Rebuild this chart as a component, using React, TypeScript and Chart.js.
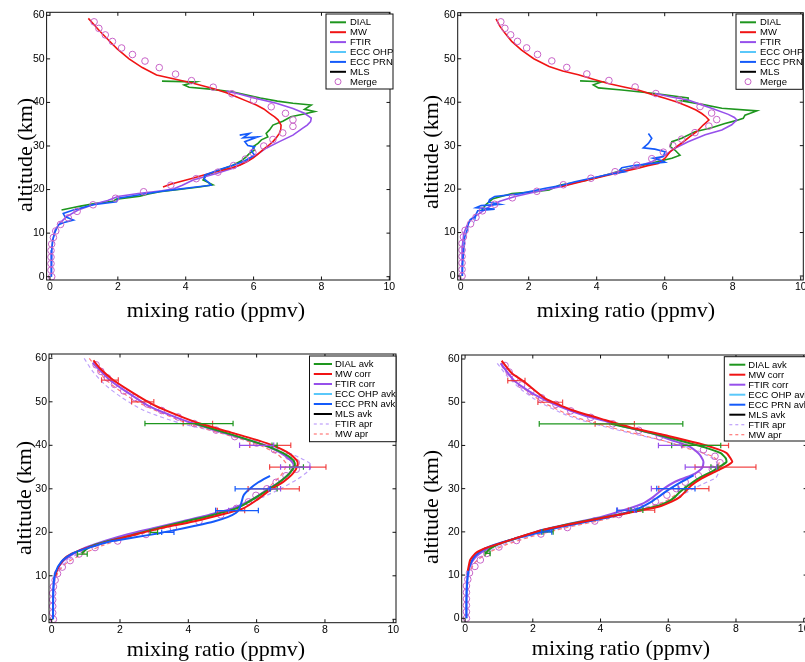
import React, { useEffect, useRef } from 'react';
import { Chart, registerables } from 'chart.js';
Chart.register(...registerables);

// ---------- axes ----------
const X_TICKS = [0, 2, 4, 6, 8, 10];
const Y_TICKS = [0, 10, 20, 30, 40, 50, 60];
const X_TITLE = 'mixing ratio (ppmv)';
const Y_TITLE = 'altitude (km)';
const LEGEND_TOP = ['DIAL', 'MW', 'FTIR', 'ECC OHP', 'ECC PRN', 'MLS', 'Merge'];
const LEGEND_BOTTOM = ['DIAL avk', 'MW corr', 'FTIR corr', 'ECC OHP avk', 'ECC PRN avk', 'MLS avk', 'FTIR apr', 'MW apr'];

// ---------- merged profiles (altitude km, ppmv) ----------
const MERGE_ALT = [0, 1.5, 3, 4.5, 6, 7.5, 9, 10.5, 12, 13.5, 15, 16.5, 18, 19.5, 21, 22.5, 24, 25.5, 27, 28.5, 30, 31.5, 33, 34.5, 36, 37.5, 39, 40.5, 42, 43.5, 45, 46.5, 48, 49.5, 51, 52.5, 54, 55.5, 57, 58.5];
const MERGE_A = [0.05, 0.03, 0.03, 0.03, 0.03, 0.05, 0.1, 0.17, 0.31, 0.54, 0.8, 1.27, 1.93, 2.76, 3.56, 4.31, 4.95, 5.41, 5.76, 5.98, 6.3, 6.57, 6.86, 7.16, 7.16, 6.94, 6.52, 6.0, 5.36, 4.81, 4.17, 3.7, 3.22, 2.8, 2.43, 2.11, 1.84, 1.63, 1.44, 1.3];
const MERGE_B = [0.04, 0.04, 0.04, 0.04, 0.04, 0.04, 0.08, 0.13, 0.29, 0.45, 0.64, 1.0, 1.52, 2.24, 3.02, 3.83, 4.54, 5.18, 5.62, 5.96, 6.24, 6.5, 6.89, 7.3, 7.53, 7.38, 7.04, 6.43, 5.74, 5.13, 4.36, 3.71, 3.12, 2.68, 2.26, 1.94, 1.67, 1.47, 1.3, 1.18];

// ---------- panel 1 profiles [altitude, ppmv] ----------
const P1_DIAL = [[44.9,3.3],[44.7,4.3],[44.0,3.95],[43.5,4.1],[43.0,4.8],[42.4,5.4],[41.5,5.9],[41.0,6.2],[40.3,6.7],[39.8,7.16],[39.4,7.7],[38.4,7.5],[37.9,7.8],[37.3,7.45],[36.7,7.1],[35.7,6.86],[34.8,6.57],[33.7,6.47],[32.9,6.37],[32.1,6.42],[31.4,6.23],[30.6,6.13],[29.8,5.98],[29.1,6.03],[28.3,5.88],[27.5,5.78],[26.6,5.64],[25.6,5.39],[24.5,5.0],[23.3,4.61],[22.2,4.51],[21.1,4.8],[20.6,4.4],[20.0,3.8],[19.5,3.24],[19.0,2.9],[18.5,2.65],[17.8,1.96],[17.3,1.85],[16.8,1.32],[16.2,0.9],[15.9,0.69],[15.3,0.34]];
const P1_MW = [[59.3,1.13],[58,1.28],[56.5,1.45],[54.5,1.7],[52.3,1.98],[50,2.33],[48,2.72],[46.3,3.14],[45.5,3.6],[44.4,4.22],[43.2,4.8],[42.2,5.2],[41.3,5.49],[40.3,5.8],[39.4,6.08],[38.5,6.3],[37.5,6.47],[36.7,6.62],[36,6.72],[34.8,6.81],[33.8,6.8],[32.9,6.76],[32,6.68],[31,6.57],[30,6.42],[29.1,6.27],[28.1,6.12],[27.2,5.98],[26.4,5.8],[25.6,5.59],[25,5.35],[24.5,5.1],[23.9,4.8],[23.3,4.51],[22.5,4.15],[21.8,3.82],[21.2,3.55],[20.6,3.33]];
const P1_FTIR = [[42.6,5.2],[42,5.55],[41.1,5.98],[39.8,6.67],[38.6,7.16],[37.5,7.5],[36.4,7.7],[35.6,7.68],[34.8,7.58],[34.1,7.45],[32.5,7.16],[31,6.76],[29.5,6.37],[27.9,6.08],[26.4,5.78],[24.9,5.39],[23.7,4.9],[22.2,4.22],[21,3.9],[20.2,3.65],[19.7,3.3],[19.1,2.6],[18.4,2.0],[17.5,1.7],[16.8,1.37],[15.3,0.83],[13.8,0.49],[12.3,0.29],[10.7,0.15],[8.4,0.08],[6,0.05],[3,0.04],[0,0.04]];
const P1_PRN = [[32.5,5.59],[32.9,5.88],[31.9,5.69],[32.1,6.13],[31,5.74],[30.1,5.83],[29.8,6.03],[28.9,5.93],[27.9,6.03],[26.6,5.74],[25.8,5.49],[24.6,5.0],[23.3,4.56],[22.4,4.55],[21.6,4.68],[21.0,4.75],[20.6,4.3],[20.1,3.8],[19.6,3.3],[18.8,2.65],[18.0,2.01],[17.2,1.96],[16.5,1.27],[15.3,0.69],[14.5,0.39],[13.8,0.44],[13.0,0.69],[12.4,0.39],[11.9,0.25],[10.3,0.15],[8.4,0.08],[6.1,0.05],[3,0.04],[0,0.04]];

// ---------- panel 2 profiles ----------
const P2_DIAL = [[44.9,3.51],[44.7,4.15],[44.0,3.9],[43.3,4.05],[42.8,4.74],[42.0,5.71],[41.0,6.69],[40.5,6.69],[40.3,6.5],[39.5,7.1],[38.6,7.68],[38.0,8.71],[37.0,8.36],[36.3,8.31],[35.7,8.07],[35.1,7.77],[34.1,7.38],[33.2,6.89],[31.7,6.5],[30.9,6.21],[29.8,6.16],[29.0,6.3],[27.8,6.45],[27.1,6.21],[26.2,5.71],[25.2,5.22],[24.2,4.7],[23.2,4.24],[22.1,3.75],[20.9,2.9],[19.8,2.6],[19.4,2.19],[19.0,1.51],[17.8,0.95],[16.5,0.75],[15.2,0.62]];
const P2_MW = [[59.2,1.04],[57.5,1.15],[55.9,1.3],[54,1.5],[52,1.79],[50,2.15],[48.2,2.6],[47.2,3.0],[46.3,3.46],[45.3,3.9],[44.3,4.34],[43.5,4.8],[42.8,5.22],[41.8,5.62],[40.9,6.01],[40,6.38],[39,6.69],[38.2,6.92],[37.4,7.09],[36.6,7.22],[35.9,7.3],[34.8,7.14],[33.2,6.94],[32.1,6.74],[30.9,6.55],[29.8,6.35],[28.6,6.16],[27.1,6.01],[25.9,5.81],[25.4,5.5],[24.8,5.22],[23.6,4.54],[22.1,3.75],[20.6,2.97]];
const P2_FTIR = [[42.0,5.71],[41.2,6.2],[40.5,6.69],[39.5,7.05],[38.6,7.38],[37.2,7.87],[36.5,8.05],[35.9,8.12],[34.8,7.97],[33.6,7.68],[32.5,7.19],[30.9,6.69],[29.4,6.3],[27.8,6.01],[26.3,5.62],[24.8,5.03],[23.2,4.24],[21.7,3.46],[20.6,2.97],[19.5,2.28],[18.3,1.6],[17.2,1.15],[16.0,0.85],[14.8,0.63],[13.3,0.33],[11.7,0.19],[9.8,0.09],[7,0.05],[3,0.04],[0,0.04]];
const P2_PRN = [[32.8,5.52],[31.7,5.62],[30.5,5.52],[29.5,5.37],[29.2,5.71],[28.6,6.01],[27.5,5.96],[27.1,5.66],[26.6,5.9],[26.2,6.01],[25.5,5.13],[24.9,4.74],[24.4,4.68],[24.0,4.83],[23.2,4.24],[21.7,3.36],[20.9,2.98],[20.2,2.49],[18.9,1.71],[18.3,1.0],[17.6,0.85],[17.0,0.82],[16.5,1.15],[16.2,0.6],[15.7,0.45],[15.4,1.0],[15.0,0.5],[14.2,0.45],[13.6,0.43],[13.0,0.28],[12.1,0.23],[10.6,0.19],[9.0,0.12],[6,0.09],[3,0.06],[0,0.05]];

// ---------- panel 3 profiles ----------
const P3_DIAL = [[45,4.2],[42.4,5.3],[40.1,6.2],[38.2,6.78],[36.6,7.07],[35.5,7.12],[33.6,6.97],[31.3,6.63],[29.3,6.24],[27.4,5.85],[25.5,5.41],[24,4.73],[22.2,3.76],[20.5,2.88],[19,2.19],[17.9,1.61],[16.7,1.12],[15.2,0.88]];
const P3_MW = [[59.5,1.22],[57.7,1.41],[55,1.8],[52,2.39],[49.3,2.98],[47,3.66],[45,4.34],[42.8,5.32],[40.5,6.29],[38.5,6.88],[36.6,7.17],[35.5,7.2],[33.6,7.07],[31.6,6.78],[29.7,6.39],[27.4,6.0],[25.5,5.61],[24.4,5.12],[22.5,4.15],[20.9,3.17],[19.4,2.39],[18.2,1.8],[17.1,1.32],[15.9,0.83],[14.4,0.44],[12.1,0.2],[10,0.1]];
const P3_FTIR = [[59,1.2],[55,1.7],[52,2.25],[49,2.85],[47,3.45],[45,4.15],[42.5,5.2],[40.5,6.05],[38.5,6.65],[36.5,7.0],[35.3,7.08],[33.5,6.95],[31.5,6.65],[29.5,6.25],[27.5,5.85],[25.5,5.3],[24,4.6],[22.5,3.8],[21,3.0],[19.5,2.2],[18,1.55],[16.5,1.0],[15,0.62],[13.5,0.35],[12,0.2],[10,0.1],[7,0.05],[3,0.04],[0,0.04]];
const P3_PRN = [[33,6.39],[31.5,6.05],[30,5.8],[28.5,5.62],[27,5.56],[25.5,5.5],[24.5,5.4],[23.5,5.15],[22.5,4.75],[21.5,4.2],[20.5,3.6],[19.8,3.15],[18.8,2.4],[17.9,1.7],[16.3,1.02],[15.2,0.63],[13.3,0.29],[10.6,0.1],[7.5,0.05],[3,0.04],[0,0.04]];
const P3_FTIR_APR = [[60,0.95],[57,1.2],[54,1.55],[51,2.05],[48,2.7],[45,3.8],[43,4.9],[41,5.9],[39,6.7],[37,7.3],[35.5,7.6],[34,7.5],[32,7.15],[30,6.7],[28,6.15],[26,5.45],[24,4.6],[22,3.55],[20,2.6],[18,1.7],[16,1.0],[14,0.55],[12,0.28],[10,0.13],[8,0.07]];
const P3_MW_APR = [[60,1.1],[55,1.6],[50,2.5],[45,4.0],[42,5.3],[40,6.1],[38,6.6],[36,6.85],[35,6.85],[33,6.7],[30,6.3],[27,5.8],[25,5.2],[23,4.3],[21,3.3],[19,2.3],[17,1.5],[15,0.9],[13,0.45],[11,0.2],[9,0.1]];
// error bars [altitude, low, high]
const P3_ERR_MW = [[55,1.46,1.95],[50,2.34,2.99],[45,3.85,4.71],[40,5.8,7.0],[35,6.38,8.03],[30,5.75,7.25],[25,4.85,5.65]];
const P3_ERR_DIAL = [[45,2.73,5.31],[40,6.45,6.6],[35,6.97,7.37],[30,6.4,6.6],[20,2.88,3.1],[15,0.75,1.04]];
const P3_ERR_FTIR = [[40,5.5,6.5],[35,6.7,7.56],[30,6.35,6.7],[25,4.8,5.18]];
const P3_ERR_PRN = [[30,5.37,6.4],[25,4.8,6.05],[20,3.22,3.58]];

// ---------- panel 4 profiles ----------
const P4_DIAL = [[45,4.3],[43.9,4.95],[42.2,5.85],[40.8,6.5],[39.5,7.1],[38.2,7.55],[37,7.7],[36.2,7.72],[35.2,7.55],[34,7.3],[32.4,6.9],[30.8,6.6],[29.3,6.35],[28.1,6.2],[27,6.0],[25.8,5.6],[24.7,4.95],[23.5,4.2],[22,3.2],[20.4,2.3],[19,1.7],[17.5,1.1],[16.2,0.75],[15,0.6]];
const P4_MW = [[59.6,1.08],[56.7,1.38],[54.6,1.77],[50.9,2.36],[48.2,3.15],[45.9,4.13],[43.9,5.02],[42.2,6.0],[40.5,6.89],[39.1,7.48],[38.2,7.73],[36.2,7.89],[35.1,7.68],[33.9,7.38],[32.4,6.99],[30.8,6.69],[29.3,6.5],[28.1,6.35],[27,6.1],[25.8,5.71],[24.7,5.02],[23.5,4.23],[22,3.25],[20.4,2.26],[19.7,1.97],[18.5,1.48],[17.2,0.98],[16.2,0.59],[15,0.3],[13.5,0.15],[11,0.08]];
const P4_FTIR = [[59,1.05],[55,1.45],[52,2.0],[49,2.8],[47,3.5],[45.5,4.2],[44.3,4.72],[42.8,5.51],[41.2,6.1],[39.9,6.59],[38.2,6.89],[37,7.0],[36.2,7.04],[34.7,6.99],[33.1,6.69],[31.6,6.2],[29.7,5.81],[28.1,5.56],[26.6,5.26],[25.1,4.72],[23.5,4.04],[22,3.15],[20.5,2.3],[19,1.7],[17.5,1.1],[16,0.65],[14.5,0.35],[13,0.2],[11,0.1],[8,0.05],[4,0.04],[0,0.04]];
const P4_PRN = [[33.1,6.75],[31.6,6.4],[29.7,6.0],[28.1,5.71],[27,5.51],[25.4,5.12],[23.9,4.53],[22.5,3.7],[21,2.75],[20,2.3],[18.5,1.5],[17,0.85],[16,0.55],[14.5,0.3],[13,0.18],[11,0.1],[8,0.06],[4,0.04],[0,0.04]];
const P4_FTIR_APR = [[59,0.95],[56,1.25],[53,1.65],[50,2.2],[47,3.0],[45,3.8],[43,4.8],[41,5.9],[39,6.8],[37,7.3],[35.5,7.5],[34,7.5],[32.5,7.4],[31,7.0],[29,6.5],[27,5.9],[25,5.0],[23,4.0],[21,2.9],[19,1.9],[17,1.1],[15,0.6],[13,0.3],[11,0.15],[9,0.08]];
const P4_MW_APR = [[59,1.05],[55,1.45],[50,2.3],[47,3.1],[45,3.9],[43,4.9],[41,5.9],[39,6.7],[37.5,7.3],[36,7.5],[34.5,7.4],[33,7.1],[31,6.7],[29,6.3],[27,5.9],[25,5.15],[23,4.2],[21,3.0],[19,2.0],[17,1.2],[15,0.65],[13,0.3],[11,0.15]];
const P4_ERR_MW = [[55,1.26,1.77],[50,2.15,2.88],[45,3.84,5.0],[40,6.4,7.78],[35,6.79,8.59],[30,5.72,7.2],[25,4.82,5.6]];
const P4_ERR_DIAL = [[45,2.19,6.43],[40,6.1,7.55],[35,7.26,7.46],[30,6.3,6.5],[25,4.9,5.25],[20,2.3,2.6],[15,0.59,0.74]];
const P4_ERR_FTIR = [[40,5.71,6.4],[35,6.5,7.43],[30,5.5,6.3],[25,4.5,5.0]];
const P4_ERR_PRN = [[30,5.66,6.79],[25,4.48,5.05],[20,2.26,2.56]];

// ---------- styles ----------
const C_DIAL = 'rgb(30,150,30)';
const C_MW = 'rgb(240,20,20)';
const C_FTIR = 'rgb(150,80,235)';
const C_OHP = 'rgb(90,200,250)';
const C_PRN = 'rgb(20,90,250)';
const C_MLS = '#000000';
const C_MERGE = 'rgb(200,100,200)';
const C_FTIR_APR = 'rgb(190,160,250)';
const C_MW_APR = 'rgb(255,120,120)';
const C_ERR_MW = 'rgba(240,40,40,0.85)';
const TICK_FONT = { family: '"Liberation Sans", Arial, sans-serif', size: 10.5 };
const SERIF = '"Liberation Serif", "Times New Roman", serif';

const toXY = (pairs: number[][]) => pairs.map(([alt, v]) => ({ x: v, y: alt }));
const errXY = (bars: number[][]) => {
  const out: any[] = [];
  bars.forEach(([a, lo, hi]) => { out.push({ x: lo, y: a }, { x: hi, y: a }, { x: NaN, y: NaN }); });
  return out;
};
const lineDs = (pairs: number[][], color: string, width: number, order: number, extra: any = {}) => ({
  data: toXY(pairs), showLine: true, borderColor: color, backgroundColor: color, borderWidth: width,
  pointRadius: 0, pointHoverRadius: 0, fill: false, order, ...extra,
});
const mergeDs = (vals: number[], order: number) => ({
  data: MERGE_ALT.map((a, i) => ({ x: vals[i], y: a })), showLine: false, pointRadius: 3.3, pointHoverRadius: 0,
  pointStyle: 'circle', pointBorderColor: C_MERGE, pointBackgroundColor: 'rgba(0,0,0,0)', pointBorderWidth: 1, order,
});
const errDs = (bars: number[][], color: string) => ({
  data: errXY(bars), showLine: true, spanGaps: false, borderColor: color, borderWidth: 1.2,
  pointStyle: 'line', pointRotation: 90, pointRadius: 2.8, pointHoverRadius: 0, pointBorderColor: color, pointBorderWidth: 1.2, order: 0,
});

const TOP_ITEMS = [
  { c: C_DIAL }, { c: C_MW }, { c: C_FTIR }, { c: C_OHP }, { c: C_PRN }, { c: C_MLS }, { c: C_MERGE, marker: true },
];
const BOTTOM_ITEMS = [
  { c: C_DIAL }, { c: C_MW }, { c: C_FTIR }, { c: C_OHP }, { c: C_PRN }, { c: C_MLS }, { c: C_FTIR_APR, dash: true }, { c: C_MW_APR, dash: true },
];

const PANELS = [
  {
    left: 0, top: 0, w: 400, h: 300, yAxisW: 46.6, xAxisH: 20, padTop: 12.3, padRight: 10,
    xMin: -0.1, xMax: 10.02, yMin: -0.76, yMax: 60.69,
    legend: { x: 326, y: 14, w: 67, h: 75, first: 8.3, step: 9.9, l0: 4, l1: 20, tx: 24, labels: LEGEND_TOP, items: TOP_ITEMS },
    xTitle: { cx: 216, base: 317 }, yTitle: { cx: 25, cy: 155 },
    datasets: [
      mergeDs(MERGE_A, 0),
      lineDs(P1_PRN, C_PRN, 1.6, 1),
      lineDs(P1_MW, C_MW, 1.6, 2),
      lineDs(P1_FTIR, C_FTIR, 1.6, 3),
      lineDs(P1_DIAL, C_DIAL, 1.6, 4),
    ],
  },
  {
    left: 405, top: 0, w: 410, h: 300, yAxisW: 52.7, xAxisH: 20, padTop: 12.7, padRight: 11.7,
    xMin: -0.088, xMax: 10.076, yMin: -0.92, yMax: 60.6,
    legend: { x: 331, y: 14, w: 66.7, h: 75.3, first: 8.3, step: 9.9, l0: 4, l1: 20, tx: 24, labels: LEGEND_TOP, items: TOP_ITEMS },
    xTitle: { cx: 626, base: 317 }, yTitle: { cx: 431, cy: 152 },
    datasets: [
      mergeDs(MERGE_B, 0),
      lineDs(P2_PRN, C_PRN, 1.6, 1),
      lineDs(P2_MW, C_MW, 1.6, 2),
      lineDs(P2_FTIR, C_FTIR, 1.6, 3),
      lineDs(P2_DIAL, C_DIAL, 1.6, 4),
    ],
  },
  {
    left: 0, top: 340, w: 410, h: 322, yAxisW: 49, xAxisH: 39.3, padTop: 14, padRight: 14,
    xMin: -0.079, xMax: 10.08, yMin: -0.78, yMax: 60.99,
    legend: { x: 309.5, y: 16, w: 86.5, h: 85.7, first: 8, step: 10, l0: 4.3, l1: 22.5, tx: 25.5, labels: LEGEND_BOTTOM, items: BOTTOM_ITEMS },
    xTitle: { cx: 216, base: 656 }, yTitle: { cx: 23.5, cy: 498 },
    datasets: [
      errDs(P3_ERR_PRN, C_PRN), errDs(P3_ERR_FTIR, C_FTIR), errDs(P3_ERR_DIAL, C_DIAL), errDs(P3_ERR_MW, C_ERR_MW),
      lineDs(P3_PRN, C_PRN, 2, 2, { tension: 0.25 }),
      lineDs(P3_MW, C_MW, 2, 3, { tension: 0.25 }),
      lineDs(P3_DIAL, C_DIAL, 2, 4, { tension: 0.25 }),
      lineDs(P3_FTIR, C_FTIR, 2, 5, { tension: 0.25 }),
      mergeDs(MERGE_A, 6),
      lineDs(P3_MW_APR, C_MW_APR, 1.2, 7, { tension: 0.25, borderDash: [4, 3] }),
      lineDs(P3_FTIR_APR, C_FTIR_APR, 1.2, 8, { tension: 0.25, borderDash: [4, 3] }),
    ],
  },
  {
    left: 405, top: 340, w: 410, h: 322, yAxisW: 56.7, xAxisH: 40, padTop: 15, padRight: 7.9,
    xMin: -0.1, xMax: 10.1, yMin: -0.86, yMax: 60.93,
    legend: { x: 319.3, y: 16.7, w: 95, h: 84.3, first: 8, step: 10, l0: 5, l1: 21, tx: 24, labels: LEGEND_BOTTOM, items: BOTTOM_ITEMS },
    xTitle: { cx: 621, base: 655 }, yTitle: { cx: 431, cy: 507 },
    datasets: [
      errDs(P4_ERR_PRN, C_PRN), errDs(P4_ERR_FTIR, C_FTIR), errDs(P4_ERR_DIAL, C_DIAL), errDs(P4_ERR_MW, C_ERR_MW),
      lineDs(P4_MW, C_MW, 2, 2, { tension: 0.15 }),
      lineDs(P4_PRN, C_PRN, 2, 3, { tension: 0.2 }),
      lineDs(P4_DIAL, C_DIAL, 2, 4, { tension: 0.15 }),
      lineDs(P4_FTIR, C_FTIR, 2, 5, { tension: 0.2 }),
      mergeDs(MERGE_B, 6),
      lineDs(P4_MW_APR, C_MW_APR, 1.2, 7, { tension: 0.2, borderDash: [4, 3] }),
      lineDs(P4_FTIR_APR, C_FTIR_APR, 1.2, 8, { tension: 0.2, borderDash: [4, 3] }),
    ],
  },
];

const framePlugin = {
  id: 'frameTicks',
  afterDatasetsDraw(chart: any) {
    const { ctx, chartArea: a, scales } = chart;
    const sx = scales.x, sy = scales.y;
    const tl = 3.5;
    ctx.save();
    ctx.strokeStyle = '#111';
    ctx.lineWidth = 1;
    ctx.strokeRect(a.left, a.top, a.right - a.left, a.bottom - a.top);
    ctx.beginPath();
    X_TICKS.forEach((v) => {
      const px = sx.getPixelForValue(v);
      ctx.moveTo(px, a.bottom); ctx.lineTo(px, a.bottom - tl);
      ctx.moveTo(px, a.top); ctx.lineTo(px, a.top + tl);
    });
    Y_TICKS.forEach((v) => {
      const py = sy.getPixelForValue(v);
      ctx.moveTo(a.left, py); ctx.lineTo(a.left + tl, py);
      ctx.moveTo(a.right, py); ctx.lineTo(a.right - tl, py);
    });
    ctx.stroke();
    ctx.restore();
  },
};

const makeLegendPlugin = (L: any) => ({
  id: 'boxLegend',
  afterDatasetsDraw(chart: any) {
    const { ctx } = chart;
    ctx.save();
    ctx.fillStyle = '#ffffff';
    ctx.fillRect(L.x, L.y, L.w, L.h);
    ctx.strokeStyle = '#111';
    ctx.lineWidth = 1;
    ctx.strokeRect(L.x, L.y, L.w, L.h);
    ctx.font = '9.5px "Liberation Sans", Arial, sans-serif';
    ctx.textBaseline = 'middle';
    ctx.textAlign = 'left';
    L.items.forEach((it: any, i: number) => {
      const cy = L.y + L.first + i * L.step;
      ctx.strokeStyle = it.c;
      if (it.marker) {
        ctx.lineWidth = 1;
        ctx.beginPath();
        ctx.arc(L.x + (L.l0 + L.l1) / 2, cy, 3, 0, Math.PI * 2);
        ctx.stroke();
      } else {
        ctx.lineWidth = it.dash ? 1.2 : 2;
        ctx.setLineDash(it.dash ? [3, 3] : []);
        ctx.beginPath();
        ctx.moveTo(L.x + L.l0, cy);
        ctx.lineTo(L.x + L.l1, cy);
        ctx.stroke();
        ctx.setLineDash([]);
      }
      ctx.fillStyle = '#000';
      ctx.fillText(L.labels[i], L.x + L.tx, cy + 0.5);
    });
    ctx.restore();
  },
});

function makeConfig(p: any): any {
  return {
    type: 'scatter',
    data: { datasets: p.datasets },
    options: {
      responsive: false,
      animation: false,
      devicePixelRatio: 1,
      events: [],
      layout: { padding: { left: 0, top: p.padTop, right: p.padRight, bottom: 0 } },
      plugins: { legend: { display: false }, tooltip: { enabled: false } },
      scales: {
        x: {
          type: 'linear', position: 'bottom', min: p.xMin, max: p.xMax,
          afterBuildTicks: (s: any) => { s.ticks = X_TICKS.map((v) => ({ value: v })); },
          afterFit: (s: any) => { s.height = p.xAxisH; },
          grid: { display: false, drawTicks: false },
          border: { display: false },
          ticks: { padding: 1, color: '#000', font: TICK_FONT, maxRotation: 0, minRotation: 0, autoSkip: false, callback: (v: any) => String(v) },
        },
        y: {
          type: 'linear', position: 'left', min: p.yMin, max: p.yMax,
          afterBuildTicks: (s: any) => { s.ticks = Y_TICKS.map((v) => ({ value: v })); },
          afterFit: (s: any) => { s.width = p.yAxisW; },
          grid: { display: false, drawTicks: false },
          border: { display: false },
          ticks: { padding: 2, color: '#000', font: TICK_FONT, autoSkip: false, callback: (v: any) => String(v) },
        },
      },
    },
    plugins: [framePlugin, makeLegendPlugin(p.legend)],
  };
}

function Panel({ p }: { p: any }) {
  const ref = useRef<HTMLCanvasElement | null>(null);
  useEffect(() => {
    if (!ref.current) return;
    const chart = new Chart(ref.current, makeConfig(p));
    return () => chart.destroy();
  }, [p]);
  return (
    <>
      <canvas ref={ref} width={p.w} height={p.h}
        style={{ position: 'absolute', left: p.left, top: p.top, width: p.w, height: p.h, display: 'block' }} />
      <div style={{ position: 'absolute', left: p.xTitle.cx - 150, top: p.xTitle.base - 18.4, width: 300, height: 22,
        lineHeight: '22px', textAlign: 'center', fontFamily: SERIF, fontSize: 22, color: '#000', whiteSpace: 'nowrap' }}>
        {X_TITLE}
      </div>
      <div style={{ position: 'absolute', left: p.yTitle.cx - 100, top: p.yTitle.cy - 11, width: 200, height: 22,
        lineHeight: '22px', textAlign: 'center', fontFamily: SERIF, fontSize: 22, color: '#000', whiteSpace: 'nowrap',
        transform: 'rotate(-90deg)' }}>
        {Y_TITLE}
      </div>
    </>
  );
}

export default function App() {
  return (
    <div style={{ position: 'absolute', left: 0, top: 0, width: 805, height: 662, overflow: 'hidden', background: '#fff' }}>
      {PANELS.map((p, i) => <Panel key={i} p={p} />)}
    </div>
  );
}
